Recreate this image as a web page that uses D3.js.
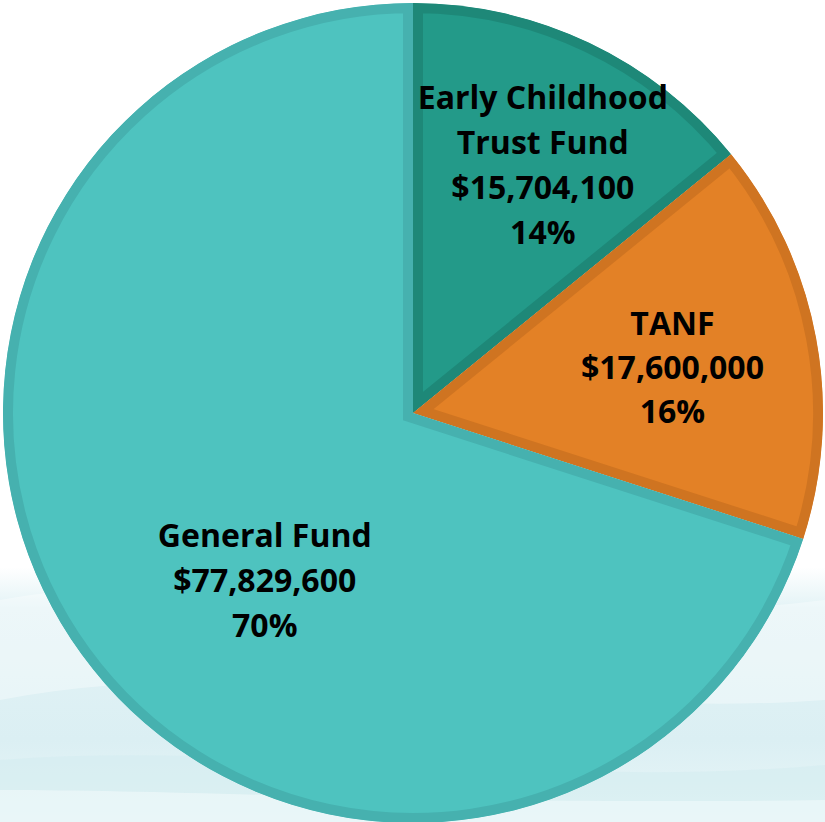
<!DOCTYPE html>
<html>
<head>
<meta charset="utf-8">
<script src="https://cdn.jsdelivr.net/npm/d3@7"></script>
<style>
  html, body { margin: 0; padding: 0; background: #fff; }
  svg { display: block; }
  text { font-family: "Open Sans", Lato, sans-serif; font-weight: bold; }
</style>
</head>
<body>
<div id="viz"></div>
<script>
// funding sources pie

var width = 825, height = 822;

var names = ["Early Childhood\nTrust Fund", "TANF", "General Fund"];
var amounts = [15704100, 17600000, 77829600];
var percents = ["14%", "16%", "70%"];
var fills = ["#239a89", "#e38126", "#4ec3bf"];
var borders = ["#1e8878", "#cf7421", "#46b1af"];

// label nudges from the arc centroid
var nudge = [[16, -8], [-1, 4], [66, 12]];

var cx = 413, cy = 413, r = 410;

var svg = d3.select("#viz")
	.append("svg")
		.attr("width", width)
		.attr("height", height);

var defs = svg.append("defs");

var bg = defs.append("linearGradient")
	.attr("id", "bg")
	.attr("x1", 0).attr("y1", 0).attr("x2", 0).attr("y2", 1);
bg.append("stop").attr("offset", "0.69").attr("stop-color", "#ffffff");
bg.append("stop").attr("offset", "0.74").attr("stop-color", "#e3f3f6");
bg.append("stop").attr("offset", "0.90").attr("stop-color", "#dbeff3");
bg.append("stop").attr("offset", "1").attr("stop-color", "#e9f6f8");

svg.append("rect")
	.attr("width", width)
	.attr("height", height)
	.attr("fill", "url(#bg)");

// soft waves in the background
svg.append("path")
	.attr("d", "M0,600 C200,560 500,640 825,600 L825,700 C560,720 260,650 0,700 Z")
	.attr("fill", "#ffffff")
	.attr("opacity", 0.35);
svg.append("path")
	.attr("d", "M0,760 C250,740 550,790 825,765 L825,822 L0,822 Z")
	.attr("fill", "#d3edf0")
	.attr("opacity", 0.6);
svg.append("path")
	.attr("d", "M0,790 C200,790 450,805 825,800 L825,822 L0,822 Z")
	.attr("fill", "#eef8fa")
	.attr("opacity", 0.7);

var data = names.map(function (n, i) {
	return { name: n, amount: amounts[i], pct: percents[i], i: i };
});

var pie = d3.pie()
	.sort(null)
	.value(function (d) { return d.amount; });

var arc = d3.arc().innerRadius(0).outerRadius(r);
var labelArc = d3.arc().innerRadius(265).outerRadius(265);

var arcs = pie(data);

var g = svg.append("g").attr("transform", "translate(" + cx + "," + cy + ")");

arcs.forEach(function (a, i) {
	defs.append("clipPath")
		.attr("id", "clip" + i)
		.append("path")
			.attr("d", arc(a));
});

g.selectAll("path.slice")
	.data(arcs)
	.enter()
	.append("path")
		.attr("class", "slice")
		.attr("d", arc)
		.attr("fill", function (d) { return fills[d.data.i]; })
		.attr("stroke", function (d) { return borders[d.data.i]; })
		.attr("stroke-width", 20)
		.attr("stroke-linejoin", "miter")
		.attr("clip-path", function (d) { return "url(#clip" + d.data.i + ")"; });

var labels = g.selectAll("text.label")
	.data(arcs)
	.enter()
	.append("text")
		.attr("class", "label")
		.attr("text-anchor", "middle")
		.attr("font-size", 32)
		.attr("fill", "#000")
		.attr("transform", function (d) {
			var c = labelArc.centroid(d);
			var n = nudge[d.data.i];
			return "translate(" + (c[0] + n[0]) + "," + (c[1] + n[1]) + ")";
		});

labels.each(function (d) {
	var lines = d.data.name.split("\n");
	lines.push(d3.format("$,")(d.data.amount));
	lines.push(d.data.pct);
	var lh = d.data.i === 1 ? 44 : 45;
	var y0 = -((lines.length - 1) * lh) / 2 + 11;
	d3.select(this).selectAll("tspan")
		.data(lines)
		.enter()
		.append("tspan")
			.attr("x", 0)
			.attr("y", function (l, k) { return y0 + k * lh; })
			.text(function (l) { return l; });
});
</script>
</body>
</html>
